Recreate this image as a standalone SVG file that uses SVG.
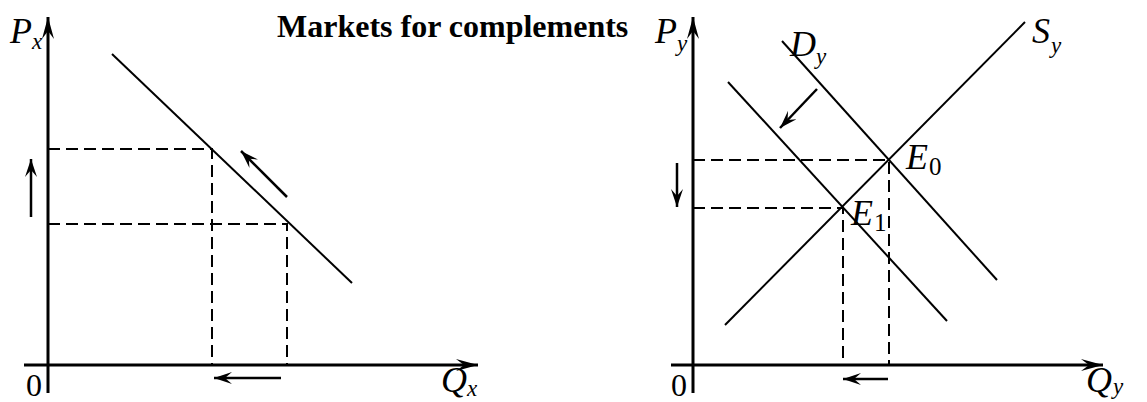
<svg xmlns="http://www.w3.org/2000/svg" width="1147" height="402" viewBox="0 0 1147 402">
<defs>
<marker id="ah" viewBox="-22 -6 24 12" markerWidth="24" markerHeight="12" refX="0" refY="0" orient="auto" markerUnits="userSpaceOnUse">
<path d="M0,0 L-22,-6 L-14,0 L-22,6 Z" fill="#000"/>
</marker>
<marker id="sh" viewBox="-18 -6 20 12" markerWidth="20" markerHeight="12" refX="0" refY="0" orient="auto" markerUnits="userSpaceOnUse">
<path d="M0,0 L-18,-6 L-11,0 L-18,6 Z" fill="#000"/>
</marker>
</defs>
<style>
.ax{stroke:#000;stroke-width:3;fill:none}
.cv{stroke:#000;stroke-width:2;fill:none}
.ds{stroke:#000;stroke-width:2;fill:none;stroke-dasharray:12,6}
.sa{stroke:#000;stroke-width:2.5;fill:none}
.lb{font-family:"Liberation Serif",serif;font-style:italic;font-size:36px;fill:#000}
.sb{font-family:"Liberation Serif",serif;font-style:italic;font-size:23px;fill:#000}
.sn{font-family:"Liberation Serif",serif;font-size:25px;fill:#000}
.zr{font-family:"Liberation Serif",serif;font-size:32px;fill:#000}
.tt{font-family:"Liberation Serif",serif;font-weight:bold;font-size:32px;fill:#000}
</style>
<rect width="1147" height="402" fill="#fff"/>
<g id="title"><text class="tt" x="277" y="37">Markets for complements</text></g>

<g id="left-axes">
<line class="ax" x1="48" y1="393" x2="48" y2="17" marker-end="url(#ah)"/>
<line class="ax" x1="24" y1="365" x2="478" y2="365" marker-end="url(#ah)"/>
<text class="lb" x="10" y="43">P</text><text class="sb" x="32" y="49">x</text>
<text class="zr" x="26" y="396">0</text>
<text class="lb" x="441" y="392">Q</text><text class="sb" x="467" y="396">x</text>
</g>
<g id="left-demand"><line class="cv" x1="112" y1="54" x2="352" y2="283"/></g>
<g id="left-guides">
<polyline class="ds" points="48,149 212,149 212,365"/>
<polyline class="ds" points="48,224 287,224 287,365"/>
</g>

<g id="right-axes">
<line class="ax" x1="693" y1="393" x2="693" y2="17" marker-end="url(#ah)"/>
<line class="ax" x1="671" y1="365" x2="1103" y2="365" marker-end="url(#ah)"/>
<text class="lb" x="655" y="43">P</text><text class="sb" x="677" y="51">y</text>
<text class="zr" x="671" y="396">0</text>
<text class="lb" x="1086" y="392">Q</text><text class="sb" x="1113" y="394">y</text>
</g>
<g id="supply"><line class="cv" x1="725" y1="325" x2="1025" y2="22"/>
<text class="lb" x="1032" y="43">S</text><text class="sb" x="1051" y="53">y</text></g>
<g id="demand0"><line class="cv" x1="782" y1="41" x2="997" y2="280"/>
<text class="lb" x="790" y="56">D</text><text class="sb" x="816" y="64">y</text></g>
<g id="demand1"><line class="cv" x1="728" y1="82" x2="947" y2="321"/></g>
<g id="E0"><text class="lb" x="906" y="169">E</text><text class="sn" x="929" y="175">0</text></g>
<g id="E1"><text class="lb" x="851" y="225">E</text><text class="sn" x="874" y="231">1</text></g>
<g id="right-guides">
<polyline class="ds" points="693,160 889,160 889,365"/>
<polyline class="ds" points="693,208 843,208 843,365"/>
</g>

<g id="connectors">
<line class="sa" x1="31" y1="217" x2="31" y2="159" marker-end="url(#sh)"/>
<line class="sa" x1="287" y1="197" x2="241" y2="151" marker-end="url(#sh)"/>
<line class="sa" x1="281" y1="378" x2="214" y2="378" marker-end="url(#sh)"/>
<line class="sa" x1="677" y1="163" x2="677" y2="207" marker-end="url(#sh)"/>
<line class="sa" x1="817" y1="89" x2="780" y2="128" marker-end="url(#sh)"/>
<line class="sa" x1="888" y1="379" x2="843" y2="379" marker-end="url(#sh)"/>
</g>
</svg>
